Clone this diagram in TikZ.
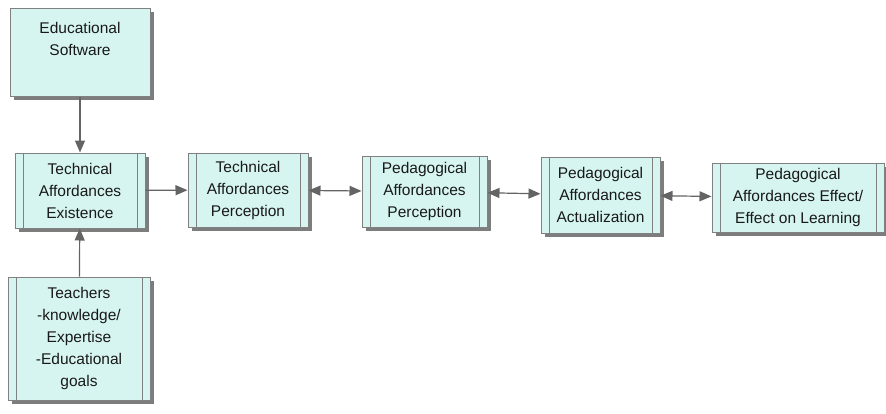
\documentclass[tikz,border=0pt]{standalone}
\usepackage{fontspec}
\setmainfont{Liberation Sans}
\usetikzlibrary{arrows.meta,shadows}

\definecolor{boxfill}{RGB}{214,245,241}
\definecolor{boxline}{RGB}{128,128,128}
\definecolor{shadowgray}{RGB}{125,125,125}
\definecolor{arrowgray}{RGB}{100,100,100}

\tikzset{
  flowbox/.style={rectangle, draw=boxline, line width=1pt, fill=boxfill,
    align=center, inner sep=2pt, text=black!90,
    font=\fontsize{15.5}{22}\selectfont,
    general shadow={shadow xshift=4pt, shadow yshift=-4pt, fill=shadowgray}},
  barbox/.style={flowbox,
    path picture={
      \draw[boxline, line width=1pt]
        ([xshift=8pt]path picture bounding box.north west) --
        ([xshift=8pt]path picture bounding box.south west);
      \draw[boxline, line width=1pt]
        ([xshift=-8pt]path picture bounding box.north east) --
        ([xshift=-8pt]path picture bounding box.south east);
    }},
  link/.style={draw=arrowgray, line width=1.2pt,
    arrows={-Triangle[length=12pt,width=10pt,fill=arrowgray]}},
  biglink/.style={link,
    arrows={Triangle[length=12pt,width=10pt,fill=arrowgray]-Triangle[length=12pt,width=10pt,fill=arrowgray]}}
}

\begin{document}
\begin{tikzpicture}[x=1pt, y=1pt]
  \useasboundingbox (0,0) rectangle (886,-413);

  \node[flowbox, minimum width=140pt, minimum height=88pt, text depth=27pt] (edu) at (80,-52)
    {Educational\\Software};
  \node[barbox, minimum width=130pt, minimum height=75pt] (tae) at (80,-190.5)
    {Technical\\Affordances\\Existence};
  \node[barbox, minimum width=120pt, minimum height=74pt] (tap) at (248,-190)
    {Technical\\Affordances\\Perception};
  \node[barbox, minimum width=125pt, minimum height=71pt] (pap) at (424.5,-191.5)
    {Pedagogical\\Affordances\\Perception};
  \node[barbox, minimum width=119pt, minimum height=76pt] (paa) at (600.5,-195)
    {Pedagogical\\Affordances\\Actualization};
  \node[barbox, minimum width=172pt, minimum height=69pt] (pae) at (798,-197.5)
    {Pedagogical\\Affordances Effect/\\Effect on Learning};
  \node[barbox, minimum width=142pt, minimum height=123pt] (teach) at (79,-338.5)
    {Teachers\\-knowledge/\\Expertise\\-Educational\\goals};

  \begin{scope}
    \draw[link] (edu) to (tae);
    \draw[link] (teach) to (tae);
    \draw[link] (tae) to (tap);
    \draw[biglink] (tap) to (pap);
    \draw[biglink] (pap) to (paa);
    \draw[biglink] (paa) to (pae);
  \end{scope}
\end{tikzpicture}
\end{document}
